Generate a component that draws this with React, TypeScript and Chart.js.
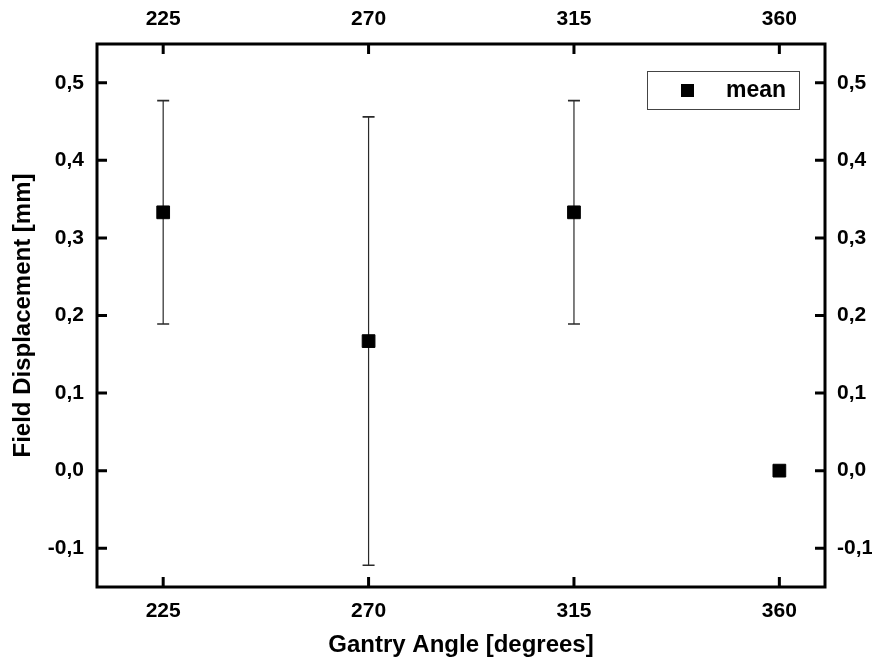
import { useEffect, useRef } from 'react';
import { Chart, registerables } from 'chart.js';

Chart.register(...registerables);

const gantryAngles = [225, 270, 315, 360];
const meanDisplacement = [0.333, 0.167, 0.333, 0.0];
const displacementError = [0.144, 0.289, 0.144, 0.0];
const xTickValues = [225, 270, 315, 360];
const yTickValues = [-0.1, 0.0, 0.1, 0.2, 0.3, 0.4, 0.5];
const seriesLabel = 'mean';
const xTitle = 'Gantry Angle [degrees]';
const yTitle = 'Field Displacement [mm]';

const FAMILY = '"Liberation Sans", Arial, Helvetica, sans-serif';
const tickFont = { family: FAMILY, size: 21, weight: 'bold' as const };
const titleFont = { family: FAMILY, size: 24, weight: 'bold' as const };

const errorBarPlugin = {
  id: 'errorBars',
  beforeDatasetsDraw(chart: any) {
    const ctx = chart.ctx;
    const xs = chart.scales.x;
    const ys = chart.scales.y;
    ctx.save();
    ctx.strokeStyle = '#2a2a2a';
    gantryAngles.forEach((a, i) => {
      const e = displacementError[i];
      if (!e) return;
      const m = meanDisplacement[i];
      const px = xs.getPixelForValue(a);
      const top = ys.getPixelForValue(m + e);
      const bot = ys.getPixelForValue(m - e);
      ctx.lineWidth = 1.2;
      ctx.beginPath();
      ctx.moveTo(px, top);
      ctx.lineTo(px, bot);
      ctx.stroke();
      ctx.lineWidth = 1.6;
      ctx.beginPath();
      ctx.moveTo(px - 6, top);
      ctx.lineTo(px + 6, top);
      ctx.moveTo(px - 6, bot);
      ctx.lineTo(px + 6, bot);
      ctx.stroke();
    });
    ctx.restore();
  },
};

const framePlugin = {
  id: 'frameTicks',
  afterDraw(chart: any) {
    const ctx = chart.ctx;
    const { left, right, top, bottom } = chart.chartArea;
    const xs = chart.scales.x;
    const ys = chart.scales.y;
    const tl = 10;
    ctx.save();
    ctx.strokeStyle = '#000';
    ctx.lineWidth = 3;
    ctx.strokeRect(left, top, right - left, bottom - top);
    ctx.beginPath();
    xTickValues.forEach((v) => {
      const px = xs.getPixelForValue(v);
      ctx.moveTo(px, bottom);
      ctx.lineTo(px, bottom - tl);
      ctx.moveTo(px, top);
      ctx.lineTo(px, top + tl);
    });
    yTickValues.forEach((v) => {
      const py = ys.getPixelForValue(v);
      ctx.moveTo(left, py);
      ctx.lineTo(left + tl, py);
      ctx.moveTo(right, py);
      ctx.lineTo(right - tl, py);
    });
    ctx.stroke();

    // legend box
    const bx = right - 178;
    const by = top + 27;
    const bw = 152;
    const bh = 38;
    ctx.lineWidth = 1;
    ctx.strokeStyle = '#444';
    ctx.fillStyle = '#fff';
    ctx.fillRect(bx, by, bw, bh);
    ctx.strokeRect(bx + 0.5, by + 0.5, bw, bh);
    ctx.fillStyle = '#000';
    ctx.fillRect(bx + 34, by + 13, 13, 13);
    ctx.font = `bold 23px ${FAMILY}`;
    ctx.textBaseline = 'middle';
    ctx.textAlign = 'left';
    ctx.fillText(chart.data.datasets[0].label, bx + 79, by + 20);
    ctx.restore();
  },
};

const fmtY = (v: number) => (Math.abs(v) < 1e-9 ? 0 : v).toFixed(1).replace('.', ',');

export default function App() {
  const ref = useRef<HTMLCanvasElement>(null);
  useEffect(() => {
    if (!ref.current) return;
    const setXTicks = (s: any) => {
      s.ticks = xTickValues.map((v) => ({ value: v }));
    };
    const setYTicks = (s: any) => {
      s.ticks = yTickValues.map((v) => ({ value: v }));
    };
    const common = {
      grid: { display: false, drawTicks: false },
      border: { display: false },
    };
    const chart = new Chart(ref.current, {
      type: 'scatter',
      data: {
        datasets: [
          {
            label: seriesLabel,
            data: gantryAngles.map((a, i) => ({ x: a, y: meanDisplacement[i] })),
            pointStyle: 'rect',
            pointRadius: 9,
            pointHoverRadius: 9,
            backgroundColor: '#000',
            borderColor: '#000',
            borderWidth: 1,
            clip: false as any,
          },
        ],
      },
      plugins: [errorBarPlugin, framePlugin],
      options: {
        responsive: false,
        animation: false,
        layout: { padding: 0 },
        plugins: { legend: { display: false }, tooltip: { enabled: false } },
        scales: {
          x: {
            type: 'linear',
            position: 'bottom',
            min: 210.5,
            max: 370,
            afterBuildTicks: setXTicks,
            afterFit: (s: any) => {
              s.height = 75;
            },
            ...common,
            ticks: { font: tickFont, color: '#000', padding: 12, maxRotation: 0, callback: (v: any) => String(v) },
            title: { display: true, text: xTitle, font: titleFont, color: '#000', padding: { top: 0, bottom: 2 } },
          },
          x2: {
            type: 'linear',
            position: 'top',
            min: 210.5,
            max: 370,
            afterBuildTicks: setXTicks,
            afterFit: (s: any) => {
              s.height = 44;
            },
            ...common,
            ticks: { font: tickFont, color: '#000', padding: 12, maxRotation: 0, callback: (v: any) => String(v) },
          },
          y: {
            type: 'linear',
            position: 'left',
            min: -0.15,
            max: 0.55,
            afterBuildTicks: setYTicks,
            afterFit: (s: any) => {
              s.width = 97;
            },
            ...common,
            ticks: { font: tickFont, color: '#000', padding: 13, callback: (v: any) => fmtY(Number(v)) },
            title: { display: true, text: yTitle, font: titleFont, color: '#000', padding: { top: 9, bottom: 0 } },
          },
          y2: {
            type: 'linear',
            position: 'right',
            min: -0.15,
            max: 0.55,
            afterBuildTicks: setYTicks,
            afterFit: (s: any) => {
              s.width = 47;
            },
            ...common,
            ticks: { font: tickFont, color: '#000', padding: 12, callback: (v: any) => fmtY(Number(v)) },
          },
        },
      },
    });
    return () => chart.destroy();
  }, []);

  return (
    <div style={{ position: 'absolute', left: 0, top: 0, width: 872, height: 662, background: '#fff' }}>
      <canvas ref={ref} width={872} height={662} style={{ display: 'block', width: 872, height: 662 }} />
    </div>
  );
}
